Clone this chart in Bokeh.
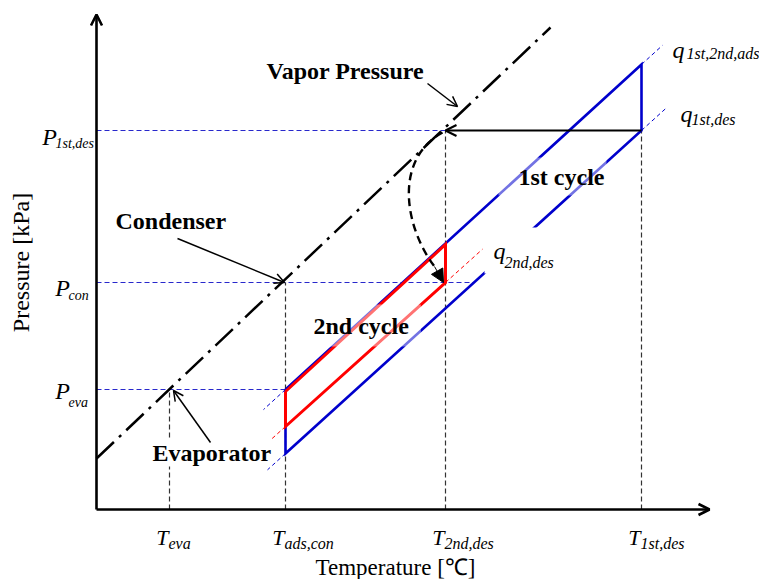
import math
from bokeh.plotting import figure
from bokeh.models import Range1d, Label, Arrow, OpenHead, NormalHead
from bokeh.embed import file_html
from bokeh.resources import INLINE

# ---------------- data read from the schematic (arbitrary units) ----------------
# temperature marks on the horizontal axis
T_names = ["eva", "ads,con", "2nd,des", "1st,des"]
T_vals = [7.3, 18.9, 34.9, 54.5]
# pressure marks on the vertical axis
P_names = ["1st,des", "con", "eva"]
P_vals = [37.9, 22.7, 12.0]

# saturated vapour-pressure line (dash-dot)
vapor_T = [0.0, 45.4]
vapor_P = [5.1, 48.2]

# 1st cycle (blue) corners: ads-start, ads-end, des-end, des-start
cycle1_T = [18.9, 54.5, 54.5, 18.9, 18.9]
cycle1_P = [12.0, 44.5, 37.9, 5.6, 12.0]
# 2nd cycle (red) corners
cycle2_T = [18.9, 34.9, 34.9, 18.9, 18.9]
cycle2_P = [11.8, 26.5, 22.7, 8.3, 11.8]

# isostere names
q_names = ["1st,2nd,ads", "1st,des", "2nd,des"]

# ---------------- styling ----------------
BLUE = "#0000CC"
RED = "#FF0000"
GUIDE = "#2828CC"
SERIF = "Liberation Serif"

p = figure(width=759, height=579,
           x_range=Range1d(-9.6, 66.3), y_range=Range1d(-7.0, 50.9),
           output_backend="svg", toolbar_location=None,
           x_axis_type=None, y_axis_type=None,
           min_border=0, outline_line_color=None)
p.background_fill_color = "white"

T_eva, T_ads, T_2nd, T_1st = T_vals
P_1st, P_con, P_eva = P_vals

# ---- guide lines (blue dashed horizontals, black dashed verticals) ----
p.segment(x0=[0, 0, 0], y0=[P_1st, P_con, P_eva],
          x1=[T_2nd, 37.7, T_ads], y1=[P_1st, P_con, P_eva],
          line_color=GUIDE, line_width=1.1, line_dash="5 3")
p.segment(x0=T_vals, y0=[0, 0, 0, 0],
          x1=T_vals, y1=[P_eva, P_con, P_1st, P_1st],
          line_color="#333333", line_width=1.2, line_dash="5 3")

# ---- vapour pressure line ----
p.line(vapor_T, vapor_P, line_color="black", line_width=2.5, line_dash="24 7 3 7")

# ---- isostere extensions (thin dashed) ----
def extension(xa, ya, xb, yb, dT):
    s = (yb - ya) / (xb - xa)
    return xb, yb, xb + dT, yb + s * dT

ext_blue = [
    extension(cycle1_T[0], cycle1_P[0], cycle1_T[1], cycle1_P[1], 2.1),
    extension(cycle1_T[1], cycle1_P[1], cycle1_T[0], cycle1_P[0], -2.2),
    extension(cycle1_T[3], cycle1_P[3], cycle1_T[2], cycle1_P[2], 2.4),
    extension(cycle1_T[2], cycle1_P[2], cycle1_T[3], cycle1_P[3], -1.8),
]
ext_red = [
    extension(cycle2_T[3], cycle2_P[3], cycle2_T[2], cycle2_P[2], 3.7),
    extension(cycle2_T[2], cycle2_P[2], cycle2_T[3], cycle2_P[3], -1.7),
]
for segs, col in ((ext_blue, BLUE), (ext_red, RED)):
    p.segment(x0=[s[0] for s in segs], y0=[s[1] for s in segs],
              x1=[s[2] for s in segs], y1=[s[3] for s in segs],
              line_color=col, line_width=1.0, line_dash="4 3")

# ---- cycles ----
p.line(cycle1_T, cycle1_P, line_color=BLUE, line_width=2.6, line_join="miter")
p.line(cycle2_T, cycle2_P, line_color=RED, line_width=3.0, line_join="miter")

# ---- dashed curved arrow (1st desorption heat drives 2nd cycle) ----
p.bezier(x0=[34.6], y0=[37.7], x1=[33.8], y1=[24.3],
         cx0=[29.6], cy0=[34.9], cx1=[30.9], cy1=[28.1],
         line_color="black", line_width=2.4, line_dash="8 5")

# ---------------- labels ----------------
def lab(x, y, text, size, style="normal", align="left", baseline="alphabetic",
        angle=0.0, pad=None, **kw):
    extra = dict(kw)
    if pad is not None:
        l_, r_, t_, b_ = pad
        extra["padding"] = dict(left=l_, right=r_, top=t_, bottom=b_)
        if align == "left":
            x = x - l_ / 10.0   # box corner sits left of the text by the padding
    l = Label(x=x, y=y, text=text, text_font=SERIF, text_font_size=size,
              text_font_style=style, text_align=align, text_baseline=baseline,
              text_color="black", angle=angle, **extra)
    p.add_layout(l)
    return l

# temperature tick labels
for name, tv in zip(T_names, T_vals):
    lab(tv - 0.1, -2.8, "T", "22px", "italic", align="right")
    lab(tv - 0.1, -3.4, name, "16px", "italic")

# pressure tick labels
P_sub_x = [-4.1, -2.8, -2.8]
P_main_dy = [-0.6, -0.5, -0.1]
for name, pv, sx, dy in zip(P_names, P_vals, P_sub_x, P_main_dy):
    lab(sx + 0.15, pv + dy, "P", "24px", "italic", align="right")
    lab(sx, pv - 1.3, name, "14px", "italic")

# isostere labels
q_main = [(57.6, 46.0), (58.4, 39.6)]
q_sub = [(59.0, 45.6), (59.5, 39.0)]
for name, (mx, my), (sx, sy) in zip(q_names[:2], q_main, q_sub):
    lab(mx, my, "q", "24px", "italic")
    lab(sx, sy, name, "16px", "italic")
# the 2nd desorption isostere label sits on an opaque white box
lab(39.7, 25.9, "q", "24px", "italic", baseline="middle",
    pad=(9, 58, 10, 10), background_fill_color="white", background_fill_alpha=1.0)
lab(40.8, 24.7, q_names[2], "16px", "italic")

# bold annotations
lab(17.0, 43.9, "Vapor Pressure", "24px", "bold", baseline="middle")
lab(1.9, 28.9, "Condenser", "24px", "bold", baseline="middle")
lab(42.2, 33.3, "1st cycle", "24px", "bold", baseline="middle",
    pad=(20, 2, 6, 6), background_fill_color="white", background_fill_alpha=0.45)
lab(21.7, 18.4, "2nd cycle", "24px", "bold", baseline="middle",
    pad=(2, 12, 8, 8), background_fill_color="white", background_fill_alpha=0.45)
lab(5.6, 5.7, "Evaporator", "24px", "bold", baseline="middle",
    pad=(1, 1, 1, 1), background_fill_color="white", background_fill_alpha=1.0)

# axis titles
lab(29.9, -5.8, "Temperature [\u2103]", "23px", align="center", baseline="middle")
lab(-7.6, 24.7, "Pressure [kPa]", "24px", align="center", baseline="middle",
    angle=math.pi / 2)

# ---------------- arrows ----------------
def arrow(x0, y0, x1, y1, width, size, head="open"):
    if head == "open":
        h = OpenHead(size=size, line_width=width, line_color="black")
    else:
        h = NormalHead(size=size, fill_color="black", line_color="black",
                       line_width=1)
    p.add_layout(Arrow(x_start=x0, y_start=y0, x_end=x1, y_end=y1, end=h,
                       line_color="black", line_width=width))

# axes
arrow(0, 0, 0, 49.5, 2.6, 11)
arrow(0, 0, 61.3, 0, 2.6, 11)
# desorption pressure arrow
arrow(T_1st, P_1st, T_2nd, P_1st, 2.2, 11)
# curved arrow head
arrow(33.8, 24.3, 34.7, 22.7, 1.0, 13, head="normal")
# annotation pointers
arrow(33.1, 42.6, 36.1, 40.3, 1.5, 10)
arrow(8.1, 27.1, T_ads - 0.1, P_con, 1.5, 10)
arrow(11.4, 6.7, T_eva + 0.4, P_eva - 0.1, 1.5, 10)

open("out.html", "w").write(file_html(p, INLINE))
